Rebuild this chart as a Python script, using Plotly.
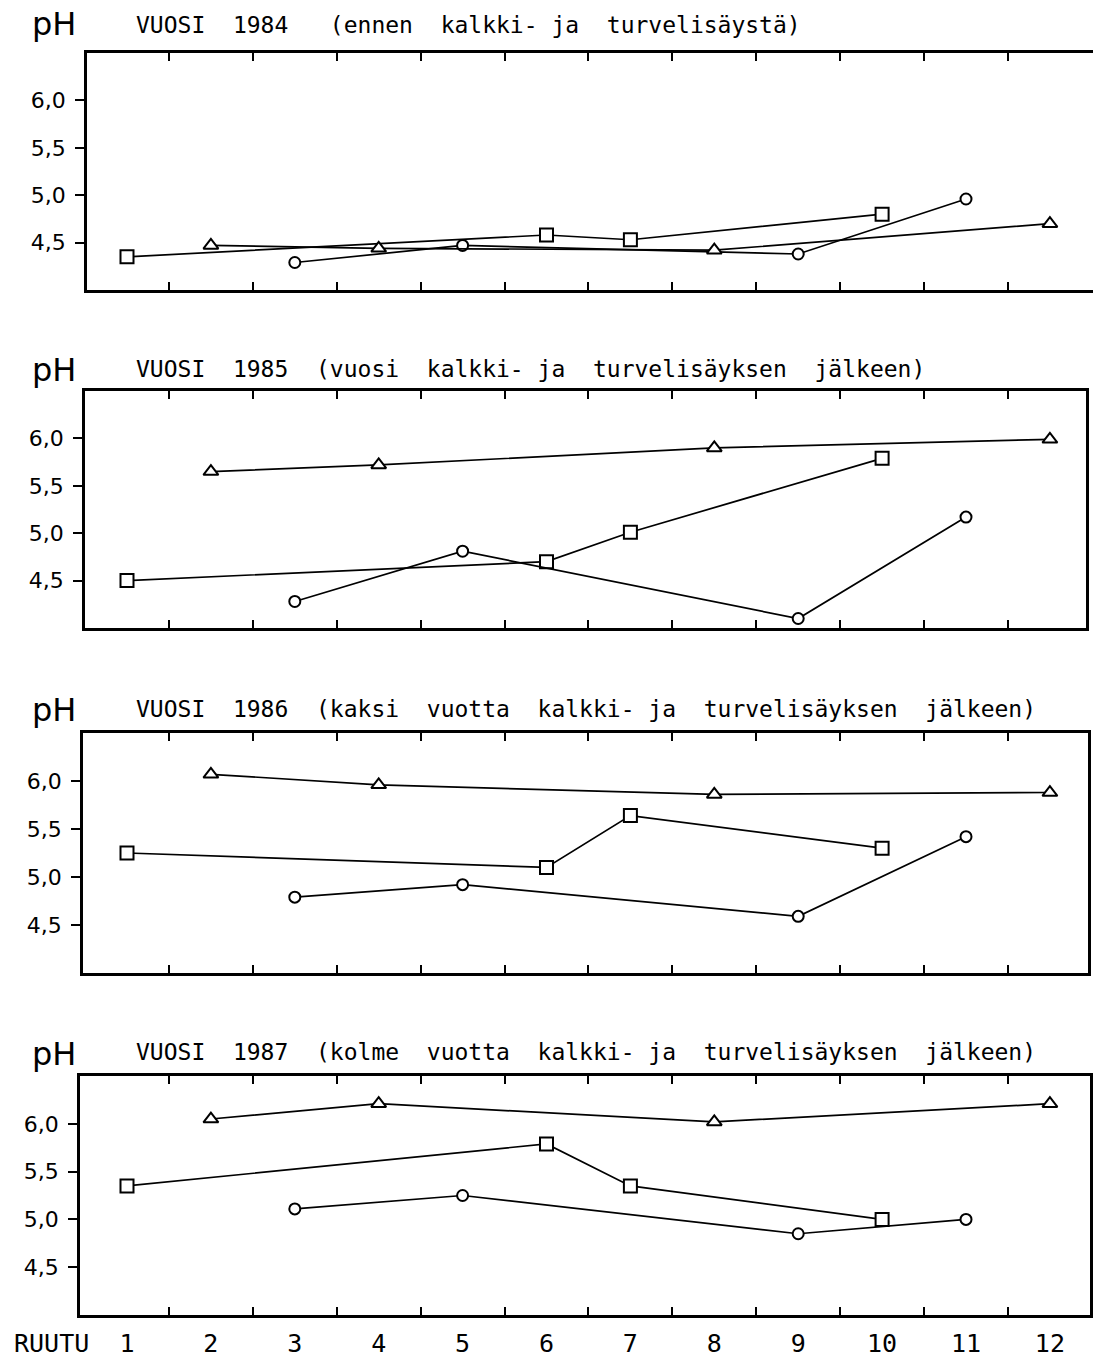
import plotly.graph_objects as go

# Plot numbers (RUUTU) carrying each marker type
ruutu_square = [1, 6, 7, 10]
ruutu_triangle = [2, 4, 8, 12]
ruutu_circle = [3, 5, 9, 11]
ruutu_labels = list(range(1, 13))

# pH per year, in the order of the plot numbers above (1984, 1985, 1986, 1987)
ph_square = [
    [4.35, 4.58, 4.53, 4.80],
    [4.50, 4.70, 5.01, 5.79],
    [5.25, 5.10, 5.64, 5.30],
    [5.35, 5.79, 5.35, 5.00],
]
ph_triangle = [
    [4.47, 4.44, 4.42, 4.70],
    [5.65, 5.72, 5.90, 5.99],
    [6.07, 5.96, 5.86, 5.88],
    [6.05, 6.21, 6.02, 6.21],
]
ph_circle = [
    [4.29, 4.47, 4.38, 4.96],
    [4.28, 4.81, 4.10, 5.17],
    [4.79, 4.92, 4.59, 5.42],
    [5.11, 5.25, 4.85, 5.00],
]
ph_ticks = [4.5, 5.0, 5.5, 6.0]

panel_titles = [
    "VUOSI  1984   (ennen  kalkki- ja  turvelisäystä)",
    "VUOSI  1985  (vuosi  kalkki- ja  turvelisäyksen  jälkeen)",
    "VUOSI  1986  (kaksi  vuotta  kalkki- ja  turvelisäyksen  jälkeen)",
    "VUOSI  1987  (kolme  vuotta  kalkki- ja  turvelisäyksen  jälkeen)",
]

# ---- page geometry (pixels) ----
W, H = 1093, 1359
panel_top = [53, 391, 733, 1076]
panel_bottom = [290, 628, 973, 1315]
panel_left = [87, 85, 83, 80]
panel_right = [1093, 1086, 1088, 1090]
x_first_px = 127          # where plot 1 sits
px_per_plot = 83.9        # horizontal distance between plots
title_mid = [25, 369, 709, 1052]
ph_mid = [24, 370, 710, 1054]

INK = "black"
LETTER = "DejaVu Sans Mono"
SANS = "DejaVu Sans"

fig = go.Figure()
boundaries = [(a + b) / 2 for a, b in zip(ruutu_labels[:-1], ruutu_labels[1:])]

for i in range(4):
    n = "" if i == 0 else str(i + 1)
    xa, ya = "x" + n, "y" + n
    for xs, ys, sym, size in (
        (ruutu_square, ph_square[i], "square", 13),
        (ruutu_circle, ph_circle[i], "circle", 11),
        (ruutu_triangle, ph_triangle[i], "triangle-up", 13),
    ):
        fig.add_trace(go.Scatter(
            x=xs, y=ys, xaxis=xa, yaxis=ya, mode="lines+markers",
            line=dict(color=INK, width=1.7),
            marker=dict(symbol=sym, size=size, color="white",
                        line=dict(color=INK, width=2)),
            showlegend=False, hoverinfo="x+y",
        ))

    left, right = panel_left[i], panel_right[i]
    x_lo = 1 + (left - x_first_px) / px_per_plot
    x_hi = 1 + (right - x_first_px) / px_per_plot
    fig.layout["xaxis" + n] = dict(
        domain=[left / W, right / W], range=[x_lo, x_hi], anchor=ya,
        showline=True, linewidth=2.5, linecolor=INK, mirror="ticks",
        showgrid=False, zeroline=False,
        tickmode="array", tickvals=ruutu_labels, ticks="",
        showticklabels=(i == 3), ticklabelstandoff=4,
        tickfont=dict(family=LETTER, size=25, color=INK),
        minor=dict(tickmode="array", tickvals=boundaries, ticks="inside",
                   ticklen=8, tickwidth=2, tickcolor=INK, showgrid=False),
    )
    fig.layout["yaxis" + n] = dict(
        domain=[1 - panel_bottom[i] / H, 1 - panel_top[i] / H],
        range=[4.0, 6.5], anchor=xa,
        showline=True, linewidth=2.5, linecolor=INK, mirror=(i != 0),
        showgrid=False, zeroline=False,
        tickmode="array", tickvals=ph_ticks, tickformat=".1f",
        ticks="outside", ticklen=9, tickwidth=2, tickcolor=INK,
        ticklabelstandoff=5,
        tickfont=dict(family=SANS, size=22, color=INK),
    )

    fig.add_annotation(
        text="pH", xref="paper", yref="paper", x=30 / W, y=1 - ph_mid[i] / H,
        xanchor="left", yanchor="middle", showarrow=False,
        font=dict(family=SANS, size=32, color=INK),
    )
    fig.add_annotation(
        text=panel_titles[i].replace(" ", "&nbsp;"), xref="paper", yref="paper",
        x=134 / W, y=1 - title_mid[i] / H,
        xanchor="left", yanchor="middle", showarrow=False,
        font=dict(family=LETTER, size=23, color=INK),
    )

fig.add_annotation(
    text="RUUTU", xref="paper", yref="paper", x=12 / W, y=1 - 1343 / H,
    xanchor="left", yanchor="middle", showarrow=False,
    font=dict(family=LETTER, size=25, color=INK),
)

fig.update_layout(
    width=W, height=H, autosize=False,
    margin=dict(l=0, r=0, t=0, b=0),
    paper_bgcolor="white", plot_bgcolor="white",
    separators=", ",
    showlegend=False,
)

fig.write_html("out.html")
